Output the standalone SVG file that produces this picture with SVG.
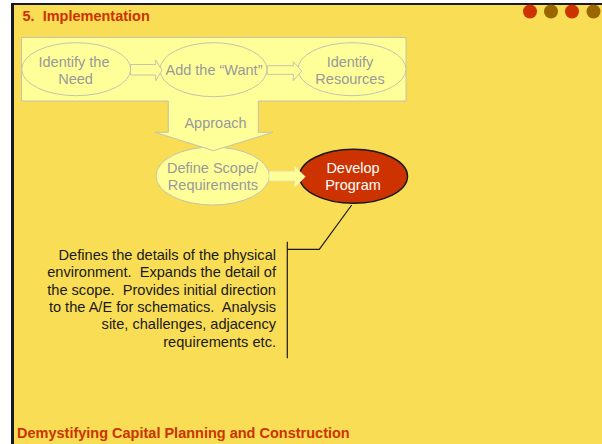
<svg xmlns="http://www.w3.org/2000/svg" width="602" height="444" viewBox="0 0 602 444">
  <style>
    .lt { font-family: "Liberation Sans", Arial, sans-serif; font-size: 14.5px; fill: #999999; text-anchor: middle; }
    .wt { font-family: "Liberation Sans", Arial, sans-serif; font-size: 14.5px; fill: #ffffff; text-anchor: middle; }
    .body { font-family: "Liberation Sans", Arial, sans-serif; font-size: 14.6px; fill: #1a1a1a; text-anchor: end; white-space: pre; }
    .hdr { font-family: "Liberation Sans", Arial, sans-serif; font-size: 14.5px; font-weight: bold; fill: #cc3300; white-space: pre; }
    .pale { fill: #ffff99; stroke: #c4c4b0; stroke-width: 1; }
    .blk { fill: none; stroke: #1a1a1a; stroke-width: 1.2; }
  </style>
  <rect x="0" y="0" width="602" height="444" fill="#ffffff"/>
  <rect x="11" y="3" width="591" height="441" fill="#1a1a1a"/>
  <rect x="14" y="5" width="588" height="439" fill="#f9dd54"/>
  <g id="dots">
    <circle cx="530" cy="11.5" r="7" fill="#cc3300"/>
    <circle cx="551" cy="11.5" r="7" fill="#996600"/>
    <circle cx="572" cy="11.5" r="7" fill="#cc3300"/>
    <circle cx="593.5" cy="11.5" r="7" fill="#996600"/>
  </g>
  <text class="hdr" x="22.5" y="20.5">5.  Implementation</text>

  <g id="define-scope">
    <ellipse class="pale" cx="212.7" cy="176" rx="56.7" ry="29"/>
    <text class="lt" x="212.5" y="172.5">Define Scope/</text>
    <text class="lt" x="213" y="190">Requirements</text>
  </g>

  <g id="approach-frame">
    <path class="pale" d="M21.5,37.5 H406 V101 H258.3 V132.3 H273 L213.5,150.7 L155,132.3 H168.3 V101 H21.5 Z"/>
    <text class="lt" x="215.5" y="128">Approach</text>
  </g>

  <g id="identify-need">
    <ellipse class="pale" cx="76.2" cy="69.2" rx="54.5" ry="26.5"/>
    <text class="lt" x="74" y="67">Identify the</text>
    <text class="lt" x="75.5" y="83.5">Need</text>
  </g>
  <g id="add-want">
    <ellipse class="pale" cx="213.5" cy="69.7" rx="53.5" ry="27"/>
    <text class="lt" x="214" y="75.3">Add the “Want”</text>
  </g>
  <g id="identify-resources">
    <ellipse class="pale" cx="352" cy="69.2" rx="54" ry="26.5"/>
    <text class="lt" x="350" y="66.7">Identify</text>
    <text class="lt" x="350" y="84.3">Resources</text>
  </g>

  <g id="develop-program">
    <ellipse cx="353.5" cy="176.3" rx="54" ry="27" fill="#cc3300" stroke="#1a1a1a" stroke-width="1.5"/>
    <text class="wt" x="353" y="173.3">Develop</text>
    <text class="wt" x="353" y="190">Program</text>
  </g>

  <g id="connectors">
    <path class="pale" d="M130.5,64.5 H155.7 V60 L162,70.3 L155.7,80.7 V75 H130.5 Z"/>
    <path class="pale" d="M267.3,65.7 H293.3 V61.7 L301.7,71 L293.3,80.7 V74.3 H267.3 Z"/>
    <path d="M269.3,171.7 H295 V166.7 L305,176.7 L295,186.7 V180.7 H269.3 Z" fill="#ffff99" stroke="#f0f0c0" stroke-width="1"/>
    <polyline class="blk" points="351.7,205 319.3,249.3 287.3,249.3"/>
    <line class="blk" x1="287.3" y1="241.7" x2="287.3" y2="358.3"/>
  </g>

  <g id="description">
    <text class="body" x="276" y="260">Defines the details of the physical</text>
    <text class="body" x="276" y="277.3">environment.  Expands the detail of</text>
    <text class="body" x="276" y="294.5">the scope.  Provides initial direction</text>
    <text class="body" x="276" y="311.8">to the A/E for schematics.  Analysis</text>
    <text class="body" x="276" y="329.2">site, challenges, adjacency</text>
    <text class="body" x="276" y="346.5">requirements etc.</text>
  </g>

  <text class="hdr" x="17" y="438">Demystifying Capital Planning and Construction</text>
</svg>
